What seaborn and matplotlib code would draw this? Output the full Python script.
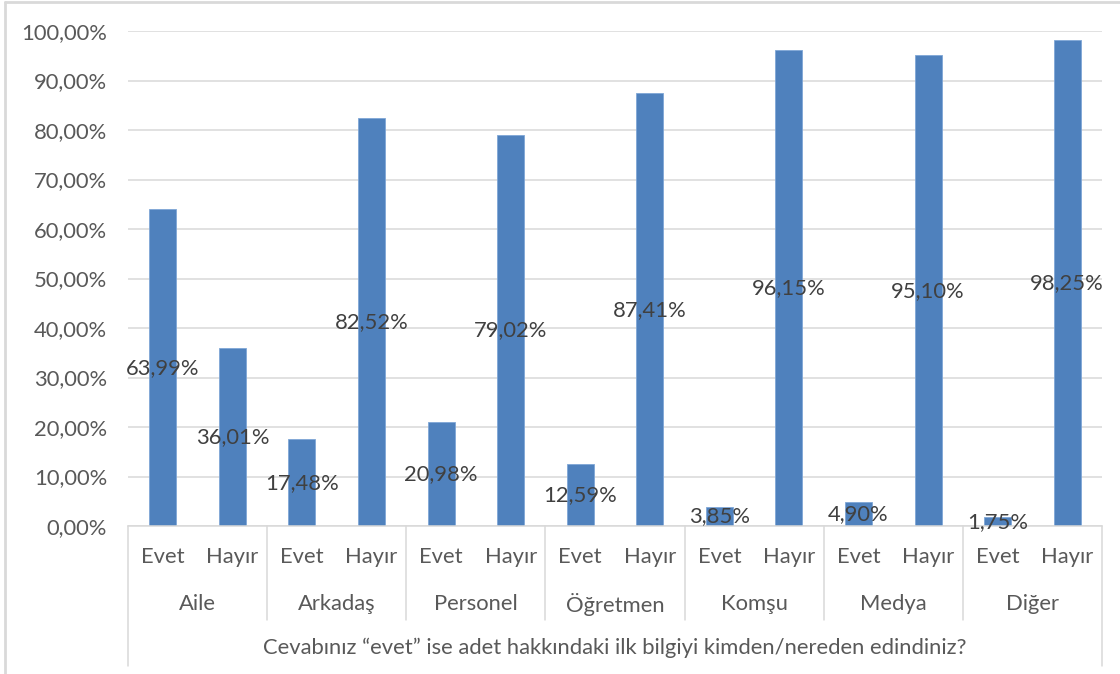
import matplotlib
matplotlib.use("Agg")
import matplotlib.pyplot as plt
import matplotlib.transforms as mtransforms
from matplotlib.lines import Line2D
import seaborn as sns
import pandas as pd

# Survey responses per information source
sources = ["Aile", "Arkadaş", "Personel", "Öğretmen", "Komşu", "Medya", "Diğer"]
answers = ["Evet", "Hayır"]
evet_pct = [63.99, 17.48, 20.98, 12.59, 3.85, 4.90, 1.75]
hayir_pct = [36.01, 82.52, 79.02, 87.41, 96.15, 95.10, 98.25]
y_ticks = [0, 10, 20, 30, 40, 50, 60, 70, 80, 90, 100]
axis_title = "Cevabınız “evet” ise adet hakkındaki ilk bilgiyi kimden/nereden edindiniz?"

rows = []
for src, e, h in zip(sources, evet_pct, hayir_pct):
    rows.append({"kaynak": src, "cevap": answers[0], "oran": e})
    rows.append({"kaynak": src, "cevap": answers[1], "oran": h})
df = pd.DataFrame(rows)
df["slot"] = [f"{r.kaynak}|{r.cevap}" for r in df.itertuples()]

sns.set_theme(style="white")
plt.rcParams["font.family"] = ["Lato", "DejaVu Sans"]

BAR = "#4F81BD"
GRID = "#D9D9D9"
TXT = "#595959"
LBL = "#404040"
FS = 15.8

fig = plt.figure(figsize=(11.2, 6.74), dpi=100)
ax = fig.add_axes([128 / 1120, 1 - 526 / 674, (1102 - 128) / 1120, (526 - 31) / 674])

sns.barplot(data=df, x="slot", y="oran", order=list(df["slot"]), color=BAR,
            saturation=1, width=0.39, edgecolor="#7FA6D6", linewidth=0.6,
            ax=ax, errorbar=None)

ax.set_ylim(0, 100)
ax.set_xlim(-0.5, len(df) - 0.5)
ax.set_yticks(y_ticks)
ax.set_yticklabels([f"{t:.2f}%".replace(".", ",") for t in y_ticks], color=TXT, fontsize=FS)
ax.tick_params(axis="y", length=0, pad=15)
ax.set_xticks([])
ax.set_xlabel("")
ax.set_ylabel("")
ax.grid(axis="y", color=GRID, linewidth=1.1)
ax.set_axisbelow(True)
for s in ["top", "right", "left"]:
    ax.spines[s].set_visible(False)
ax.spines["bottom"].set_color(GRID)
ax.spines["bottom"].set_linewidth(1.1)

# value labels in the middle of each bar
for cont in ax.containers:
    ax.bar_label(cont, labels=[f"{v:.2f}%".replace(".", ",") for v in df["oran"]],
                 label_type="center", color=LBL, fontsize=FS)

# two-level category axis drawn below the plot
trans = mtransforms.blended_transform_factory(ax.transData, ax.transAxes)
h_px = 526 - 31
for i, r in enumerate(df.itertuples()):
    ax.text(i, -31 / h_px, r.cevap, transform=trans, ha="center", va="center",
            color=TXT, fontsize=FS)
for g, src in enumerate(sources):
    ax.text(2 * g + 0.5, -78 / h_px, src, transform=trans, ha="center", va="center",
            color=TXT, fontsize=FS)
ax.text((len(df) - 1) / 2, -122 / h_px, axis_title, transform=trans, ha="center",
        va="center", color=TXT, fontsize=FS)

for g in range(len(sources) + 1):
    xb = 2 * g - 0.5
    outer = g == 0 or g == len(sources)
    ybot = -140 / h_px if outer else -94 / h_px
    ax.plot([xb, xb], [0, ybot], transform=trans, color=GRID, linewidth=1.1,
            clip_on=False)

# chart frame: left and top edges
fig.lines.append(Line2D([4.5 / 1120, 4.5 / 1120], [0, 1 - 1.5 / 674],
                        transform=fig.transFigure, color=GRID, linewidth=2))
fig.lines.append(Line2D([4.5 / 1120, 1], [1 - 1.5 / 674, 1 - 1.5 / 674],
                        transform=fig.transFigure, color=GRID, linewidth=2))

fig.savefig("out.png", dpi=100, facecolor="white")
